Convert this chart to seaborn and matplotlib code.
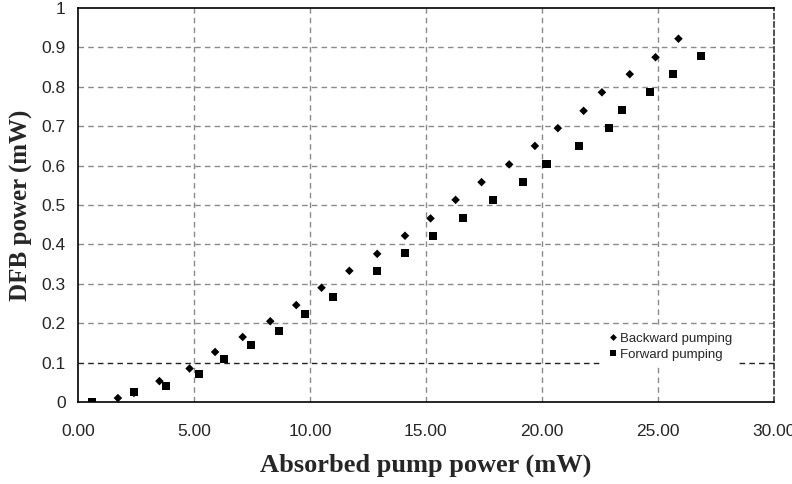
import numpy as np
import pandas as pd
import matplotlib
matplotlib.use("Agg")
import matplotlib.pyplot as plt
import seaborn as sns

# Data
backward_x = [1.72, 2.41, 3.51, 4.81, 5.91, 7.10, 8.29, 9.41, 10.50, 11.70, 12.90, 14.10,
              15.20, 16.28, 17.40, 18.59, 19.70, 20.69, 21.80, 22.59, 23.79, 24.90, 25.89]
backward_y = [0.010, 0.023, 0.053, 0.085, 0.127, 0.165, 0.205, 0.246, 0.290, 0.333, 0.376, 0.422,
              0.466, 0.513, 0.558, 0.603, 0.650, 0.695, 0.739, 0.786, 0.832, 0.875, 0.922]
forward_x = [0.62, 2.41, 3.81, 5.20, 6.29, 7.44, 8.66, 9.78, 11.00, 12.90, 14.10, 15.30,
             16.60, 17.90, 19.19, 20.20, 21.60, 22.89, 23.47, 24.68, 25.67, 26.88]
forward_y = [0.000, 0.025, 0.041, 0.072, 0.110, 0.145, 0.181, 0.223, 0.266, 0.333, 0.378, 0.421,
             0.466, 0.512, 0.558, 0.603, 0.650, 0.695, 0.741, 0.787, 0.833, 0.878]
x_ticks = [0, 5, 10, 15, 20, 25, 30]
y_ticks = [0, 0.1, 0.2, 0.3, 0.4, 0.5, 0.6, 0.7, 0.8, 0.9, 1.0]
y_tick_labels = ["0", "0.1", "0.2", "0.3", "0.4", "0.5", "0.6", "0.7", "0.8", "0.9", "1"]

df = pd.concat([
    pd.DataFrame({"x": backward_x, "y": backward_y, "series": "Backward pumping"}),
    pd.DataFrame({"x": forward_x, "y": forward_y, "series": "Forward pumping"}),
])

sns.set_style("white")
plt.rcParams["font.family"] = ["Liberation Sans", "DejaVu Sans"]

fig = plt.figure(figsize=(7.92, 4.84), dpi=100)
ax = fig.add_axes([0.0985, 0.1694, 0.8785, 0.8141])

# gridlines (the 0.1 one is darker in the original)
for yv in y_ticks[1:-1]:
    col = "#222222" if abs(yv - 0.1) < 1e-9 else "#8a8a8a"
    ax.axhline(yv, color=col, lw=1, ls=(0, (4, 3)), zorder=0)
for xv in x_ticks[1:-1]:
    ax.axvline(xv, color="#8a8a8a", lw=1, ls=(0, (4, 3)), zorder=0)

sns.scatterplot(data=df, x="x", y="y", style="series", hue="series", size="series",
                markers={"Backward pumping": "D", "Forward pumping": "s"},
                palette={"Backward pumping": "black", "Forward pumping": "black"},
                sizes={"Backward pumping": 19, "Forward pumping": 34},
                edgecolor="black", linewidth=0, ax=ax, zorder=3)

ax.set_xlim(0, 30)
ax.set_ylim(0, 1)
ax.set_xticks(x_ticks)
ax.set_xticklabels([f"{v:.2f}" for v in x_ticks], fontsize=12.5)
ax.set_yticks(y_ticks)
ax.set_yticklabels(y_tick_labels, fontsize=12.5)
ax.tick_params(axis="x", direction="inout", length=8, width=1, color="black", pad=12)
ax.tick_params(axis="y", direction="out", length=5, width=1, color="black", pad=4)

ax.set_xlabel("Absorbed pump power (mW)", family="Liberation Serif", fontweight="bold", fontsize=19, labelpad=10)
ax.set_ylabel("DFB power (mW)", family="Liberation Serif", fontweight="bold", fontsize=18, labelpad=6)

for side in ["left", "bottom", "top"]:
    ax.spines[side].set_color("black")
    ax.spines[side].set_linewidth(1.2)
ax.spines["right"].set_color("#333333")
ax.spines["right"].set_linestyle((0, (3, 2)))
ax.spines["right"].set_linewidth(1.2)

leg = ax.legend(loc="upper left", bbox_to_anchor=(0.752, 0.19), frameon=True, fontsize=9.5,
                handletextpad=0.0, labelspacing=0.3, borderpad=0.4, markerscale=0.8,
                handlelength=1.0, borderaxespad=0)
leg.get_frame().set_edgecolor("white")
leg.get_frame().set_facecolor("white")
leg.get_frame().set_alpha(1)
leg.get_frame().set_boxstyle("square", pad=0)

fig.savefig("out.png", dpi=100)
